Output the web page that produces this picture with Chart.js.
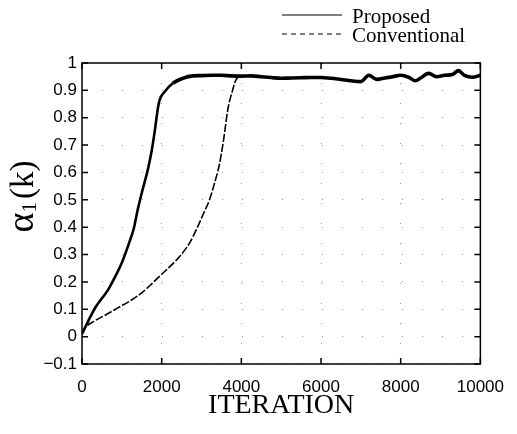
<!DOCTYPE html>
<html><head><meta charset="utf-8">
<script src="https://cdn.jsdelivr.net/npm/chart.js@4/dist/chart.umd.min.js"></script>
<style>html,body{margin:0;padding:0;background:#fff}#wrap{width:517px;height:434px}</style>
</head><body><div id="wrap"><canvas id="c" width="517" height="434"></canvas></div>
<script>
// ---- data ----
const seriesNames = ['Proposed', 'Conventional'];
const xTickValues = [0, 2000, 4000, 6000, 8000, 10000];
const yTickValues = [-0.1, 0, 0.1, 0.2, 0.3, 0.4, 0.5, 0.6, 0.7, 0.8, 0.9, 1];
const xTitle = 'ITERATION';
const yTitleParts = ['α', '1', '(k)'];

const proposedIter = [0,150,350,500,650,800,1000,1200,1300,1400,1500,1600,1660,1750,1825,1900,1950,2075,2280,2530,2780,3000,3250,3500,3750,4000,4250,4500,4750,5000,5250,5500,5750,6000,6250,6500,6750,7000,7200,7400,7600,7800,8000,8200,8370,8500,8700,8900,9100,9300,9450,9600,9800,10000];
const proposedVal = [0.01,0.055,0.11,0.14,0.17,0.21,0.27,0.35,0.395,0.465,0.525,0.58,0.615,0.68,0.75,0.83,0.865,0.895,0.926,0.944,0.953,0.954,0.955,0.955,0.953,0.952,0.953,0.95,0.947,0.944,0.945,0.946,0.947,0.947,0.944,0.94,0.935,0.932,0.955,0.94,0.945,0.95,0.955,0.948,0.935,0.945,0.962,0.95,0.955,0.958,0.972,0.955,0.948,0.955];

const conventionalIter = [0,100,300,600,900,1200,1500,1800,2000,2200,2450,2700,2900,3050,3200,3325,3450,3550,3658,3720,3780,3830,3950,4250,4500,4750,5000,5250,5500,5750,6000,6250,6500,6750,7000,7200,7400,7600,7800,8000,8200,8370,8500,8700,8900,9100,9300,9450,9600,9800,10000];
const conventionalVal = [0.01,0.035,0.056,0.08,0.105,0.13,0.16,0.2,0.228,0.255,0.293,0.342,0.40,0.45,0.50,0.56,0.63,0.715,0.828,0.87,0.90,0.926,0.952,0.953,0.95,0.947,0.944,0.945,0.946,0.947,0.947,0.944,0.94,0.935,0.932,0.955,0.94,0.945,0.95,0.955,0.948,0.935,0.945,0.962,0.95,0.955,0.958,0.972,0.955,0.948,0.955];

// ---- helpers ----
const toPts = (xs, ys) => xs.map((x, i) => ({x, y: ys[i]}));
const fmtY = v => {
  const r = Math.round(v * 10) / 10;
  if (r < 0) return '\u2212' + Math.abs(r);
  return String(r);
};

const frameAndTicks = {
  id: 'frameAndTicks',
  afterDatasetsDraw(chart) {
    const {ctx, chartArea: a, scales: {x, y}} = chart;
    ctx.save();
    ctx.strokeStyle = '#000';
    ctx.lineWidth = 1.5;
    ctx.strokeRect(a.left, a.top, a.right - a.left, a.bottom - a.top);
    const L = 6;
    ctx.beginPath();
    x.ticks.forEach(t => {
      const px = x.getPixelForValue(t.value);
      ctx.moveTo(px, a.bottom); ctx.lineTo(px, a.bottom - L);
      ctx.moveTo(px, a.top); ctx.lineTo(px, a.top + L);
    });
    y.ticks.forEach(t => {
      const py = y.getPixelForValue(t.value);
      ctx.moveTo(a.left, py); ctx.lineTo(a.left + L, py);
      ctx.moveTo(a.right, py); ctx.lineTo(a.right - L, py);
    });
    ctx.stroke();
    ctx.restore();
  },
  afterDraw(chart) {
    const {ctx, chartArea: a} = chart;
    ctx.save();
    // y-axis title
    ctx.fillStyle = '#000';
    ctx.translate(24, (a.top + a.bottom) / 2 - 17);
    ctx.rotate(-Math.PI / 2);
    ctx.textBaseline = 'middle';
    const f1 = '38px "Liberation Serif", serif';
    const f2 = '21px "Liberation Serif", serif';
    const f3 = '33px "Liberation Serif", serif';
    ctx.font = f1; const w1 = ctx.measureText(yTitleParts[0]).width;
    ctx.font = f2; const w2 = ctx.measureText(yTitleParts[1]).width;
    ctx.font = f3; const w3 = ctx.measureText(yTitleParts[2]).width;
    let sx = -(w1 + w2 + w3 + 3) / 2;
    ctx.textAlign = 'left';
    ctx.font = f1; ctx.fillText(yTitleParts[0], sx, -1); sx += w1;
    ctx.font = f2; ctx.fillText(yTitleParts[1], sx, 6); sx += w2 + 3;
    ctx.font = f3; ctx.fillText(yTitleParts[2], sx, 0);
    ctx.restore();

    // legend
    ctx.save();
    ctx.fillStyle = '#000';
    ctx.strokeStyle = '#000';
    ctx.font = '21px "Liberation Serif", serif';
    ctx.textBaseline = 'alphabetic';
    ctx.textAlign = 'left';
    const rows = [15, 34];
    chart.data.datasets.forEach((ds, i) => {
      const ly = rows[i];
      ctx.lineWidth = 1.2;
      ctx.setLineDash(i === 1 ? [5, 4] : []);
      ctx.beginPath(); ctx.moveTo(282, ly); ctx.lineTo(342, ly); ctx.stroke();
      ctx.setLineDash([]);
      ctx.fillText(ds.label, 352, ly + 8);
    });
    ctx.restore();
  }
};

new Chart(document.getElementById('c'), {
  type: 'line',
  data: {
    datasets: [
      {
        label: seriesNames[0],
        data: toPts(proposedIter, proposedVal),
        borderColor: '#000',
        borderWidth: 2.6,
        segment: { borderWidth: c => (c.p0.parsed.y > 0.92 && c.p1.parsed.y > 0.92) ? 3.6 : 2.6 },
        pointRadius: 0,
        cubicInterpolationMode: 'monotone',
        fill: false
      },
      {
        label: seriesNames[1],
        data: toPts(conventionalIter, conventionalVal),
        borderColor: '#000',
        borderWidth: 1.6,
        borderDash: [8, 2],
        pointRadius: 0,
        cubicInterpolationMode: 'monotone',
        fill: false
      }
    ]
  },
  options: {
    responsive: false,
    animation: false,
    devicePixelRatio: 1,
    layout: { padding: { top: 63, right: 35, bottom: 0, left: 0 } },
    plugins: { legend: { display: false }, tooltip: { enabled: false } },
    scales: {
      x: {
        type: 'linear', min: 0, max: 10000,
        afterBuildTicks: s => { s.ticks = xTickValues.map(v => ({value: v})); },
        afterFit: s => { s.height = 70; },
        grid: { display: true, drawTicks: false, color: 'rgba(0,0,0,0.4)', lineWidth: 1 },
        border: { display: false, dash: [1, 19] },
        ticks: { color: '#000', padding: 13, maxRotation: 0, font: { family: '"Liberation Sans", Arial, sans-serif', size: 17 }, callback: v => String(v) },
        title: { display: true, text: xTitle, color: '#000', font: { family: '"Liberation Serif", serif', size: 28 }, padding: { top: 0, bottom: 12 } }
      },
      y: {
        type: 'linear', min: -0.1, max: 1,
        afterBuildTicks: s => { s.ticks = yTickValues.map(v => ({value: v})); },
        afterFit: s => { s.width = 82; },
        grid: { display: true, drawTicks: false, color: 'rgba(0,0,0,0.4)', lineWidth: 1 },
        border: { display: false, dash: [1, 19] },
        ticks: { color: '#000', padding: 5, font: { family: '"Liberation Sans", Arial, sans-serif', size: 17 }, callback: v => fmtY(v) }
      }
    }
  },
  plugins: [frameAndTicks]
});
</script>
</body></html>
